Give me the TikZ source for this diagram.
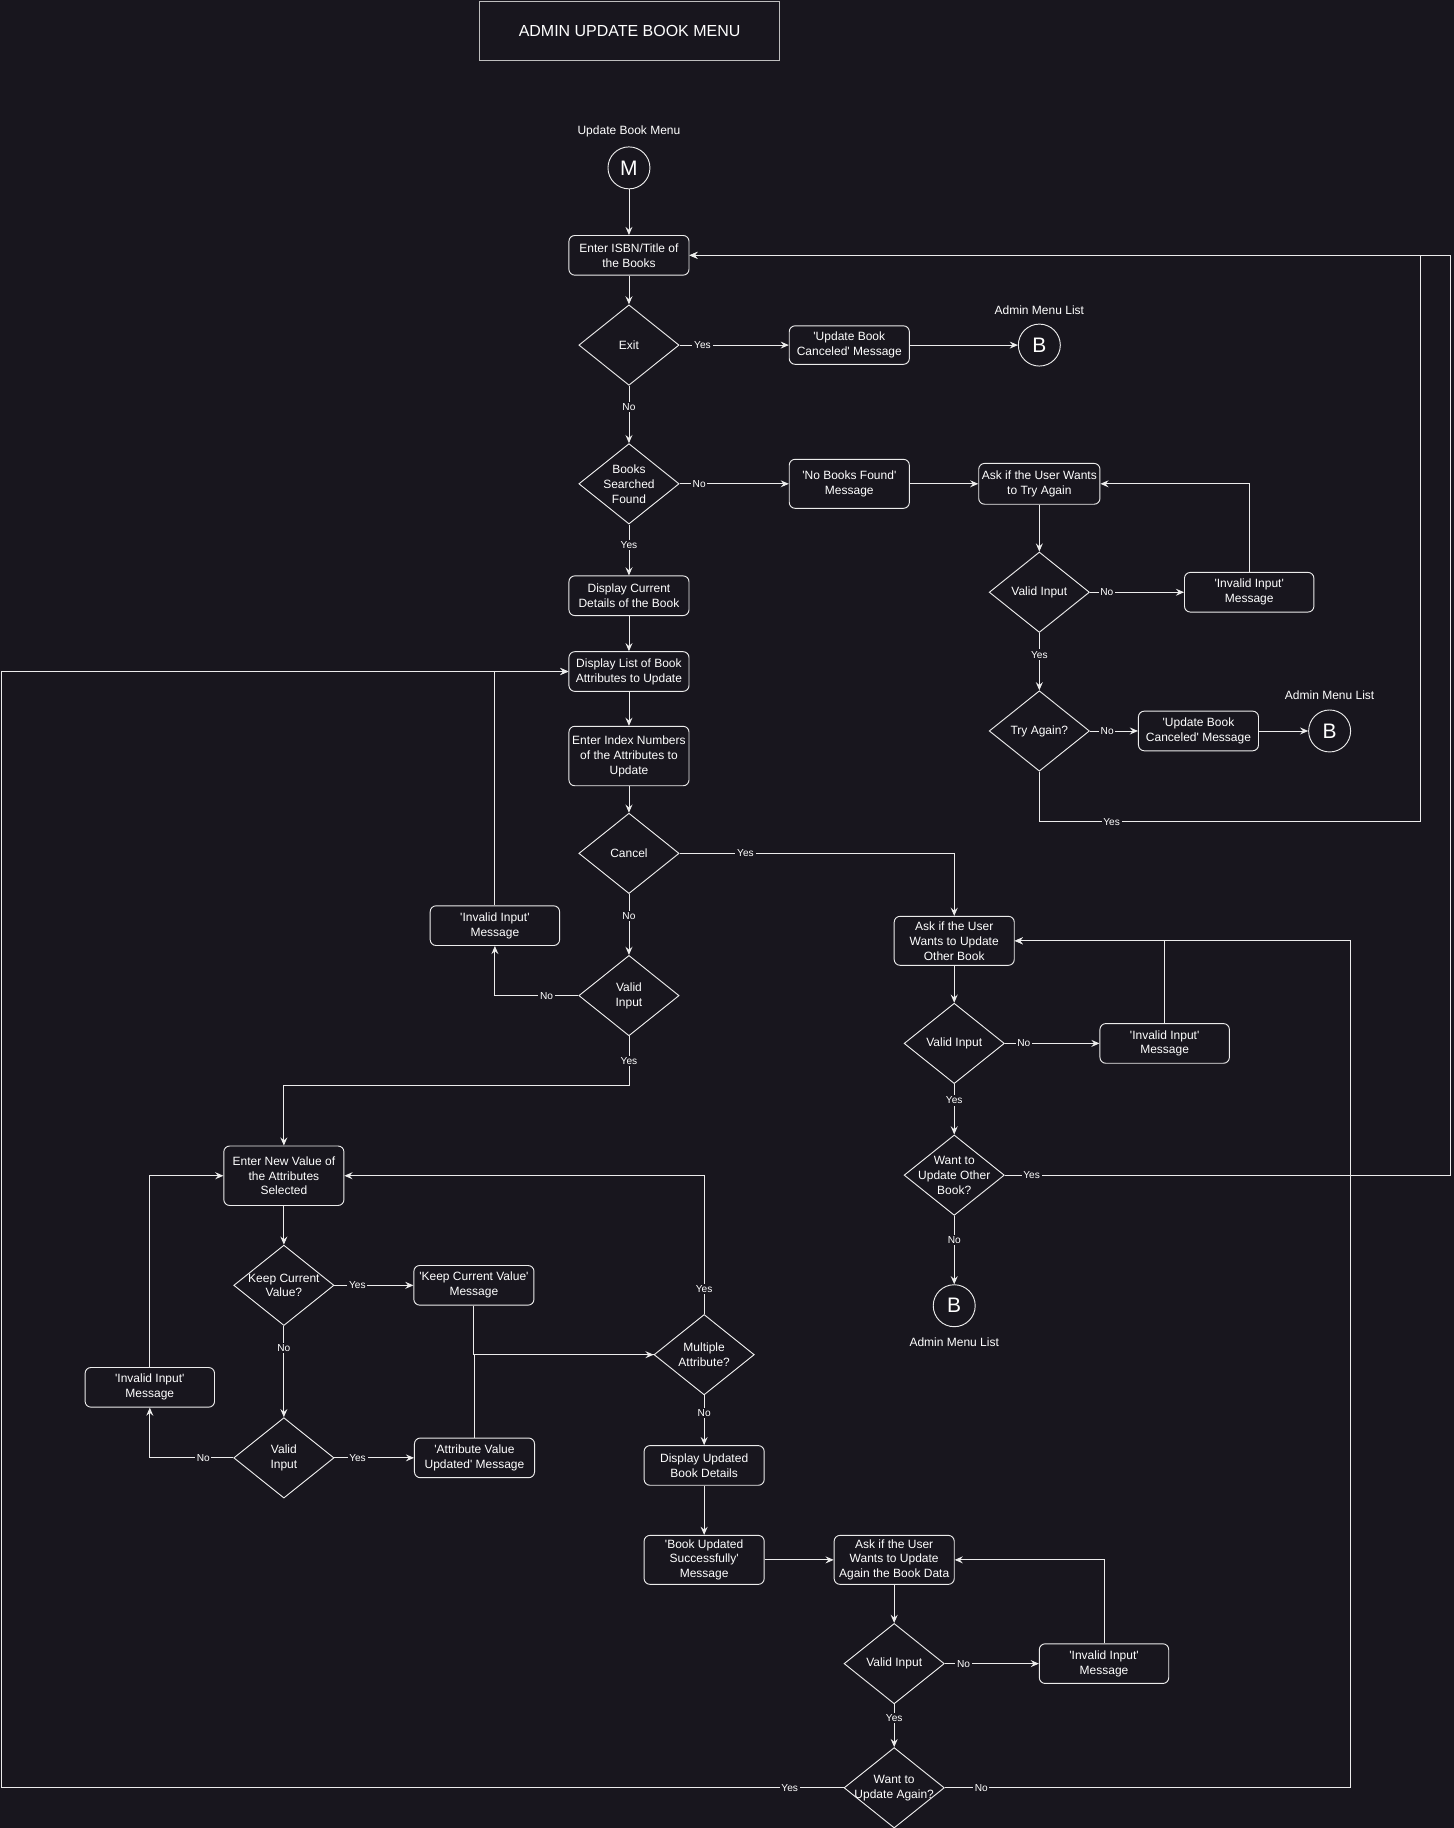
\documentclass[tikz,border=0pt]{standalone}
\usepackage{fontspec}
\setmainfont{Liberation Sans}[Ligatures=TeXOff]
\usetikzlibrary{shapes.geometric,arrows.meta}
\definecolor{canvas}{RGB}{24,22,30}
\definecolor{ink}{RGB}{236,236,236}
\definecolor{frame}{RGB}{190,190,190}
\begin{document}
\begin{tikzpicture}[x=1pt,y=-1pt,node distance=80pt]
\tikzstyle{process} = [rectangle, rounded corners=5pt, draw=ink, line width=0.8pt, text=white, align=center, minimum width=103pt, minimum height=34pt, inner sep=1pt, font=\fontsize{10.3}{12.8}\selectfont]
\tikzstyle{decision} = [diamond, draw=ink, line width=0.8pt, text=white, align=center, minimum width=86pt, minimum height=69pt, inner sep=-8pt, font=\fontsize{10.3}{12.8}\selectfont]
\tikzstyle{connector} = [circle, draw=ink, line width=0.8pt, text=white, minimum size=36pt, inner sep=0pt, font=\fontsize{18}{18}\selectfont]
\tikzstyle{caption} = [text=white, font=\fontsize{10.3}{12.8}\selectfont]
\tikzstyle{answer} = [fill=canvas, text=white, inner sep=1.5pt, font=\fontsize{8.7}{10}\selectfont]
\tikzstyle{arrow} = [draw=ink, line width=0.8pt, -{Stealth[length=7pt,width=6pt,inset=2.5pt]}]
\tikzstyle{line} = [draw=ink, line width=0.8pt]

\fill [canvas] (0,0) rectangle (1247,1568);
\useasboundingbox (0,0) rectangle (1247,1568);

\node (Title) [rectangle, draw=frame, line width=0.8pt, text=white, minimum width=258pt, minimum height=51pt, font=\fontsize{13.7}{16}\selectfont] at (540,26.5) {ADMIN UPDATE BOOK MENU};

% search part
\node (Start) [connector] at (539.5,144) {M};
\node (StartCaption) [caption, above of=Start, node distance=31pt] {Update Book Menu};
\node (EnterISBN) [process, below of=Start, node distance=75pt] {Enter ISBN/Title of\\the Books};
\node (Exit) [decision, below of=EnterISBN, node distance=77pt] {Exit};
\node (CanceledMsg) [process, right of=Exit, node distance=189pt, minimum height=33pt] {'Update Book\\Canceled' Message};
\node (AdminA) [connector, right of=CanceledMsg, node distance=163pt] {B};
\node (AdminACaption) [caption, above of=AdminA, node distance=30pt] {Admin Menu List};
\node (BooksFound) [decision, below of=Exit, node distance=119pt] {Books\\Searched\\Found};
\node (NoBooksMsg) [process, right of=BooksFound, node distance=189pt, minimum height=42pt] {'No Books Found'\\Message};
\node (AskTryAgain) [process, right of=NoBooksMsg, node distance=163pt, minimum width=104pt, minimum height=35pt] {Ask if the User Wants\\to Try Again};
\node (ValidTry) [decision, below of=AskTryAgain, node distance=93pt] {Valid Input};
\node (InvalidTry) [process, right of=ValidTry, node distance=180pt, minimum width=111pt] {'Invalid Input'\\Message};
\node (TryAgain) [decision, below of=ValidTry, node distance=119pt] {Try Again?};
\node (CanceledMsgB) [process, right of=TryAgain, node distance=136.5pt] {'Update Book\\Canceled' Message};
\node (AdminB) [connector, right of=CanceledMsgB, node distance=112.5pt] {B};
\node (AdminBCaption) [caption, above of=AdminB, node distance=31pt] {Admin Menu List};

% attribute choice
\node (ShowDetails) [process, below of=BooksFound, node distance=96pt] {Display Current\\Details of the Book};
\node (AttrList) [process, below of=ShowDetails, node distance=65pt] {Display List of Book\\Attributes to Update};
\node (EnterIndex) [process, below of=AttrList, node distance=72.5pt, minimum height=51pt] {Enter Index Numbers\\of the Attributes to\\Update};
\node (Cancel) [decision, below of=EnterIndex, node distance=83.5pt] {Cancel};
\node (ValidIndex) [decision, below of=Cancel, node distance=122pt] {Valid\\Input};
\node (InvalidIndex) [process, minimum width=111pt] at (424.5,794) {'Invalid Input'\\Message};

% other book
\node (AskOther) [process, minimum height=42pt] at (818.5,807) {Ask if the User\\Wants to Update\\Other Book};
\node (ValidOther) [decision, below of=AskOther, node distance=88pt] {Valid Input};
\node (InvalidOther) [process, right of=ValidOther, node distance=180.5pt, minimum width=111pt] {'Invalid Input'\\Message};
\node (WantOther) [decision, below of=ValidOther, node distance=113pt] {Want to\\Update Other\\Book?};
\node (AdminC) [connector, below of=WantOther, node distance=112pt] {B};
\node (AdminCCaption) [caption, below of=AdminC, node distance=31pt] {Admin Menu List};

% new values
\node (EnterValue) [process, minimum height=51pt] at (243.5,1008.5) {Enter New Value of\\the Attributes\\Selected};
\node (KeepValue) [decision, below of=EnterValue, node distance=94pt] {Keep Current\\Value?};
\node (KeepMsg) [process, right of=KeepValue, node distance=163pt] {'Keep Current Value'\\Message};
\node (ValidValue) [decision, below of=KeepValue, node distance=148pt] {Valid\\Input};
\node (UpdatedMsg) [process, right of=ValidValue, node distance=163.5pt] {'Attribute Value\\Updated' Message};
\node (InvalidValue) [process, minimum width=111pt] at (128.5,1190) {'Invalid Input'\\Message};
\node (MultiAttr) [decision] at (604,1162) {Multiple\\Attribute?};
\node (ShowUpdated) [process, below of=MultiAttr, node distance=95pt] {Display Updated\\Book Details};
\node (SuccessMsg) [process, below of=ShowUpdated, node distance=81pt, minimum height=42pt] {'Book Updated\\Successfully'\\Message};
\node (AskAgain) [process, right of=SuccessMsg, node distance=163pt, minimum height=42pt] {Ask if the User\\Wants to Update\\Again the Book Data};
\node (ValidAgain) [decision, below of=AskAgain, node distance=89pt] {Valid Input};
\node (InvalidAgain) [process, right of=ValidAgain, node distance=180pt, minimum width=111pt] {'Invalid Input'\\Message};
\node (WantAgain) [decision, below of=ValidAgain, node distance=106.5pt] {Want to\\Update Again?};

\coordinate (RetryBend) at (1218,705);
\coordinate (OtherBend) at (1244,1008);
\coordinate (AgainLeft) at (1,1533.5);
\coordinate (AgainRight) at (1158,1533.5);

\draw [arrow] (Start) -- (EnterISBN);
\draw [arrow] (EnterISBN) -- (Exit);
\draw [arrow] (Exit) -- node[answer, pos=0.21] {Yes} (CanceledMsg);
\draw [arrow] (CanceledMsg) -- (AdminA);
\draw [arrow] (Exit) -- node[answer, pos=0.37] {No} (BooksFound);
\draw [arrow] (BooksFound) -- node[answer, pos=0.18] {No} (NoBooksMsg);
\draw [arrow] (NoBooksMsg) -- (AskTryAgain);
\draw [arrow] (AskTryAgain) -- (ValidTry);
\draw [arrow] (ValidTry) -- node[answer, pos=0.18] {No} (InvalidTry);
\draw [arrow] (InvalidTry) |- (AskTryAgain);
\draw [arrow] (ValidTry) -- node[answer, pos=0.38] {Yes} (TryAgain);
\draw [arrow] (TryAgain) -- node[answer, pos=0.36] {No} (CanceledMsgB);
\draw [arrow] (CanceledMsgB) -- (AdminB);
\draw [arrow] (TryAgain.south) |- node[answer, pos=0.595] {Yes} (RetryBend) |- (EnterISBN.east);

\draw [arrow] (BooksFound) -- node[answer, pos=0.4] {Yes} (ShowDetails);
\draw [arrow] (ShowDetails) -- (AttrList);
\draw [arrow] (AttrList) -- (EnterIndex);
\draw [arrow] (EnterIndex) -- (Cancel);
\draw [arrow] (Cancel) -| node[answer, pos=0.12] {Yes} (AskOther);
\draw [arrow] (Cancel) -- node[answer, pos=0.36] {No} (ValidIndex);
\draw [arrow] (ValidIndex) -| node[answer, pos=0.19] {No} (InvalidIndex);
\draw [arrow] (InvalidIndex) |- (AttrList);
\draw [arrow] (ValidIndex.south) -- node[answer] {Yes} ++(0,42) -| (EnterValue.north);

\draw [arrow] (AskOther) -- (ValidOther);
\draw [arrow] (ValidOther) -- node[answer, pos=0.2] {No} (InvalidOther);
\draw [arrow] (InvalidOther) |- (AskOther);
\draw [arrow] (ValidOther) -- node[answer, pos=0.32] {Yes} (WantOther);
\draw [arrow] (WantOther) -- node[answer, pos=0.35] {No} (AdminC);
\draw [arrow] (WantOther.east) -- node[answer, pos=0.06] {Yes} (OtherBend) |- (EnterISBN.east);

\draw [arrow] (EnterValue) -- (KeepValue);
\draw [arrow] (KeepValue) -- node[answer, pos=0.29] {Yes} (KeepMsg);
\draw [arrow] (KeepValue) -- node[answer, pos=0.24] {No} (ValidValue);
\draw [arrow] (ValidValue) -- node[answer, pos=0.29] {Yes} (UpdatedMsg);
\draw [arrow] (ValidValue) -| node[answer, pos=0.18] {No} (InvalidValue);
\draw [arrow] (InvalidValue) |- (EnterValue);
\draw [arrow] (KeepMsg) |- (MultiAttr);
\draw [line] (UpdatedMsg) |- (MultiAttr);
\draw [arrow] (MultiAttr) |- node[answer, pos=0.09] {Yes} (EnterValue);
\draw [arrow] (MultiAttr) -- node[answer, pos=0.35] {No} (ShowUpdated);
\draw [arrow] (ShowUpdated) -- (SuccessMsg);
\draw [arrow] (SuccessMsg) -- (AskAgain);
\draw [arrow] (AskAgain) -- (ValidAgain);
\draw [arrow] (ValidAgain) -- node[answer, pos=0.2] {No} (InvalidAgain);
\draw [arrow] (InvalidAgain) |- (AskAgain);
\draw [arrow] (ValidAgain) -- node[answer, pos=0.32] {Yes} (WantAgain);
\draw [arrow] (WantAgain.west) -- node[answer, pos=0.064] {Yes} (AgainLeft) |- (AttrList.west);
\draw [arrow] (WantAgain.east) -- node[answer, pos=0.09] {No} (AgainRight) |- (AskOther.east);

\end{tikzpicture}
\end{document}
